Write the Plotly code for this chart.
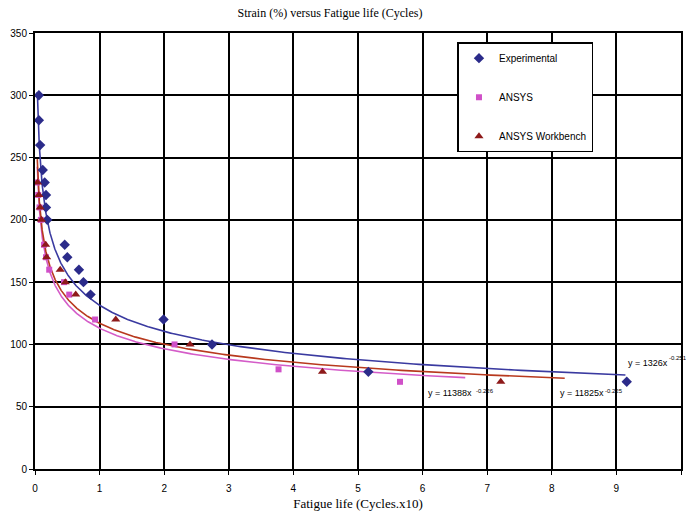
import numpy as np
import plotly.graph_objects as go

# ---- data (Fatigue life in cycles x10^4, strain in %) ----
exp_life = [0.06, 0.06, 0.08, 0.12, 0.15, 0.17, 0.17, 0.19, 0.46, 0.50, 0.68, 0.75, 0.86, 1.99, 2.74, 5.16, 9.16]
exp_strain = [300, 280, 260, 240, 230, 220, 210, 200, 180, 170, 160, 150, 140, 120, 100, 78, 70]

ansys_life = [0.03, 0.05, 0.07, 0.09, 0.14, 0.17, 0.22, 0.45, 0.53, 0.93, 2.16, 3.77, 5.65]
ansys_strain = [230, 220, 210, 200, 180, 170, 160, 150, 140, 120, 100, 80, 70]

wb_life = [0.04, 0.06, 0.08, 0.10, 0.165, 0.18, 0.39, 0.47, 0.63, 1.25, 2.40, 4.45, 7.21]
wb_strain = [230, 220, 210, 200, 180, 170, 160, 150, 140, 120, 100, 78, 70]

# power trendlines y = a * x^b (display units)
trend_names = ["Experimental", "ANSYS", "ANSYS Workbench"]
trend_coef = [131.4, 113.0, 117.0]
trend_exp = [-0.251, -0.228, -0.225]
trend_start = [0.036, 0.035, 0.035]
trend_end = [9.14, 6.66, 8.20]
trend_labels = ["y = 1326x", "y = 11388x", "y = 11825x"]
trend_sup = ["-0.251", "-0.226", "-0.225"]

x_ticks = list(range(0, 11))
y_ticks = list(range(0, 351, 50))

c_exp = "#2B2B8A"
c_ansys = "#D050C8"
c_wb = "#8E1A1A"
line_cols = ["#3A3AA0", "#D45CC8", "#B8391E"]

narrow = "Liberation Sans, Arial, sans-serif"
serif = "Liberation Serif, Times New Roman, serif"

fig = go.Figure()

# trendlines
for a, b, s, e, col in zip(trend_coef, trend_exp, trend_start, trend_end, line_cols):
    xs = np.geomspace(s, e, 400)
    fig.add_trace(go.Scatter(x=xs, y=a * xs ** b, mode="lines",
                             line=dict(color=col, width=1.6),
                             showlegend=False, hoverinfo="skip"))

fig.add_trace(go.Scatter(x=exp_life, y=exp_strain, mode="markers", name="Experimental",
                         legendgroup="a",
                         marker=dict(symbol="diamond", size=8, color=c_exp)))
fig.add_trace(go.Scatter(x=ansys_life, y=ansys_strain, mode="markers", name="ANSYS",
                         legendgroup="b",
                         marker=dict(symbol="square", size=6, color=c_ansys)))
fig.add_trace(go.Scatter(x=wb_life, y=wb_strain, mode="markers", name="ANSYS Workbench",
                         legendgroup="c",
                         marker=dict(symbol="triangle-up", size=8, color=c_wb)))

# equation labels
lab_pos = [(9.15, 85), (6.06, 61), (8.09, 61)]
sup_pos = [(9.78, 89), (6.80, 63), (8.80, 63)]
for txt, sup, (lx, ly), (sx, sy) in zip(trend_labels, trend_sup, lab_pos, sup_pos):
    fig.add_annotation(x=lx, y=ly, text=txt, showarrow=False, xanchor="left",
                       font=dict(family=narrow, size=9, color="black"))
    fig.add_annotation(x=sx, y=sy, text=sup, showarrow=False, xanchor="left",
                       font=dict(family=narrow, size=6, color="black"))

axis_common = dict(showgrid=True, gridcolor="black", gridwidth=2,
                   showline=True, linecolor="black", linewidth=2, mirror=True,
                   ticks="outside", ticklen=4, tickcolor="black", tickwidth=1,
                   zeroline=False,
                   tickfont=dict(family=narrow, size=10, color="black"))

fig.update_xaxes(range=[0, 10], tickvals=x_ticks, ticklabelstandoff=5, **axis_common,
                 title=dict(text="Fatigue life (Cycles.x10)", standoff=6,
                            font=dict(family=serif, size=13, color="black")))
fig.update_yaxes(range=[0, 350], tickvals=y_ticks, **axis_common)

fig.update_layout(
    width=686, height=516,
    margin=dict(l=35, r=3, t=33, b=47),
    paper_bgcolor="white", plot_bgcolor="white",
    title=dict(text="Strain (%) versus Fatigue life (Cycles)", x=0.481, xanchor="center",
               y=0.975, yanchor="middle",
               font=dict(family=serif, size=12, color="black")),
    legend=dict(x=0.654, y=0.979, xanchor="left", yanchor="top",
                bgcolor="white", bordercolor="black", borderwidth=1.5,
                tracegroupgap=20, entrywidth=122,
                font=dict(family=narrow, size=10, color="black")),
    showlegend=True,
)

fig.write_html("out.html", config={"displayModeBar": False},
               post_script="document.body.style.margin='0';")
